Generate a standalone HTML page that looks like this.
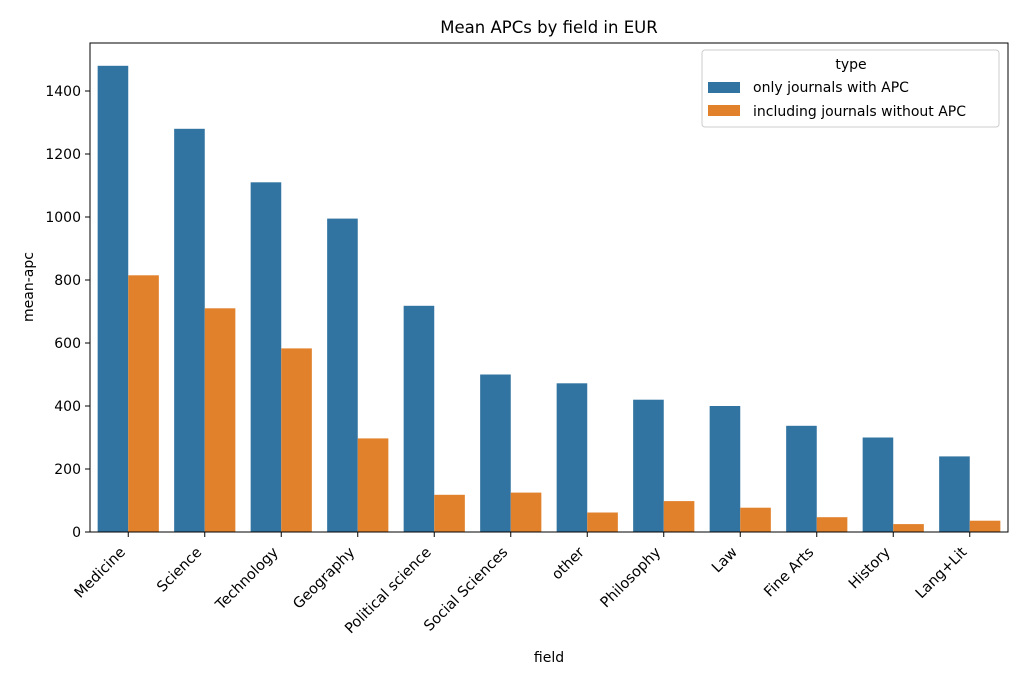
<!DOCTYPE html>
<html><head><meta charset="utf-8"><style>body{margin:0;background:#fff}svg{display:block;font-family:"DejaVu Sans","Liberation Sans",sans-serif}</style></head><body>
<svg width="1024" height="682" viewBox="0 0 1024 682">
<rect width="1024" height="682" fill="#fff"/>
<g fill="#3274a1">
<rect x="97.65" y="65.8" width="30.6" height="466.2"/>
<rect x="174.15" y="128.8" width="30.6" height="403.2"/>
<rect x="250.65" y="182.3" width="30.6" height="349.7"/>
<rect x="327.15" y="218.6" width="30.6" height="313.4"/>
<rect x="403.65" y="305.8" width="30.6" height="226.2"/>
<rect x="480.15" y="374.5" width="30.6" height="157.5"/>
<rect x="556.65" y="383.3" width="30.6" height="148.7"/>
<rect x="633.15" y="399.7" width="30.6" height="132.3"/>
<rect x="709.65" y="406" width="30.6" height="126"/>
<rect x="786.15" y="425.8" width="30.6" height="106.2"/>
<rect x="862.65" y="437.5" width="30.6" height="94.5"/>
<rect x="939.15" y="456.4" width="30.6" height="75.6"/>
</g>
<g fill="#e1812c">
<rect x="128.25" y="275.3" width="30.6" height="256.7"/>
<rect x="204.75" y="308.3" width="30.6" height="223.7"/>
<rect x="281.25" y="348.4" width="30.6" height="183.6"/>
<rect x="357.75" y="438.4" width="30.6" height="93.6"/>
<rect x="434.25" y="494.8" width="30.6" height="37.2"/>
<rect x="510.75" y="492.6" width="30.6" height="39.4"/>
<rect x="587.25" y="512.5" width="30.6" height="19.5"/>
<rect x="663.75" y="501.1" width="30.6" height="30.9"/>
<rect x="740.25" y="507.7" width="30.6" height="24.3"/>
<rect x="816.75" y="517.2" width="30.6" height="14.8"/>
<rect x="893.25" y="524.1" width="30.6" height="7.9"/>
<rect x="969.75" y="520.7" width="30.6" height="11.3"/>
</g>
<rect x="90" y="43" width="918" height="489" fill="none" stroke="#000" stroke-width="1"/>
<g stroke="#000">
<line x1="85" x2="90" y1="532" y2="532"/><line x1="85" x2="90" y1="469" y2="469"/><line x1="85" x2="90" y1="406" y2="406"/><line x1="85" x2="90" y1="343" y2="343"/><line x1="85" x2="90" y1="280" y2="280"/><line x1="85" x2="90" y1="217" y2="217"/><line x1="85" x2="90" y1="154" y2="154"/><line x1="85" x2="90" y1="91" y2="91"/>
</g>
<g font-size="14" text-anchor="end" fill="#000">
<text x="81" y="537">0</text><text x="81" y="474">200</text><text x="81" y="411">400</text><text x="81" y="348">600</text><text x="81" y="285">800</text><text x="81" y="222">1000</text><text x="81" y="159">1200</text><text x="81" y="96">1400</text>
</g>
<g stroke="#000">
<line y1="532" y2="537" x1="128.25" x2="128.25"/><line y1="532" y2="537" x1="204.75" x2="204.75"/><line y1="532" y2="537" x1="281.25" x2="281.25"/><line y1="532" y2="537" x1="357.75" x2="357.75"/><line y1="532" y2="537" x1="434.25" x2="434.25"/><line y1="532" y2="537" x1="510.75" x2="510.75"/><line y1="532" y2="537" x1="587.25" x2="587.25"/><line y1="532" y2="537" x1="663.75" x2="663.75"/><line y1="532" y2="537" x1="740.25" x2="740.25"/><line y1="532" y2="537" x1="816.75" x2="816.75"/><line y1="532" y2="537" x1="893.25" x2="893.25"/><line y1="532" y2="537" x1="969.75" x2="969.75"/>
</g>
<g font-size="14.5" text-anchor="end" fill="#000">
<text transform="translate(126,553) rotate(-45)">Medicine</text>
<text transform="translate(202.5,553) rotate(-45)">Science</text>
<text transform="translate(279,553) rotate(-45)">Technology</text>
<text transform="translate(355.5,553) rotate(-45)">Geography</text>
<text transform="translate(432,553) rotate(-45)">Political science</text>
<text transform="translate(508.5,553) rotate(-45)">Social Sciences</text>
<text transform="translate(585,553) rotate(-45)">other</text>
<text transform="translate(661.5,553) rotate(-45)">Philosophy</text>
<text transform="translate(738,553) rotate(-45)">Law</text>
<text transform="translate(814.5,553) rotate(-45)">Fine Arts</text>
<text transform="translate(891,553) rotate(-45)">History</text>
<text transform="translate(967.5,553) rotate(-45)">Lang+Lit</text>
</g>
<text x="549" y="662" font-size="14" text-anchor="middle">field</text>
<text transform="translate(33,287) rotate(-90)" font-size="14" text-anchor="middle">mean-apc</text>
<text x="549" y="33" font-size="16.5" text-anchor="middle">Mean APCs by field in EUR</text>
<rect x="702" y="50" width="297" height="77" rx="3" fill="#fff" fill-opacity="0.8" stroke="#ccc"/>
<text x="851" y="69" font-size="14" text-anchor="middle">type</text>
<rect x="708" y="82" width="32" height="11" fill="#3274a1"/>
<rect x="708" y="105" width="32" height="11" fill="#e1812c"/>
<text x="753" y="92" font-size="14">only journals with APC</text>
<text x="753" y="116" font-size="14">including journals without APC</text>
</svg>
</body></html>
